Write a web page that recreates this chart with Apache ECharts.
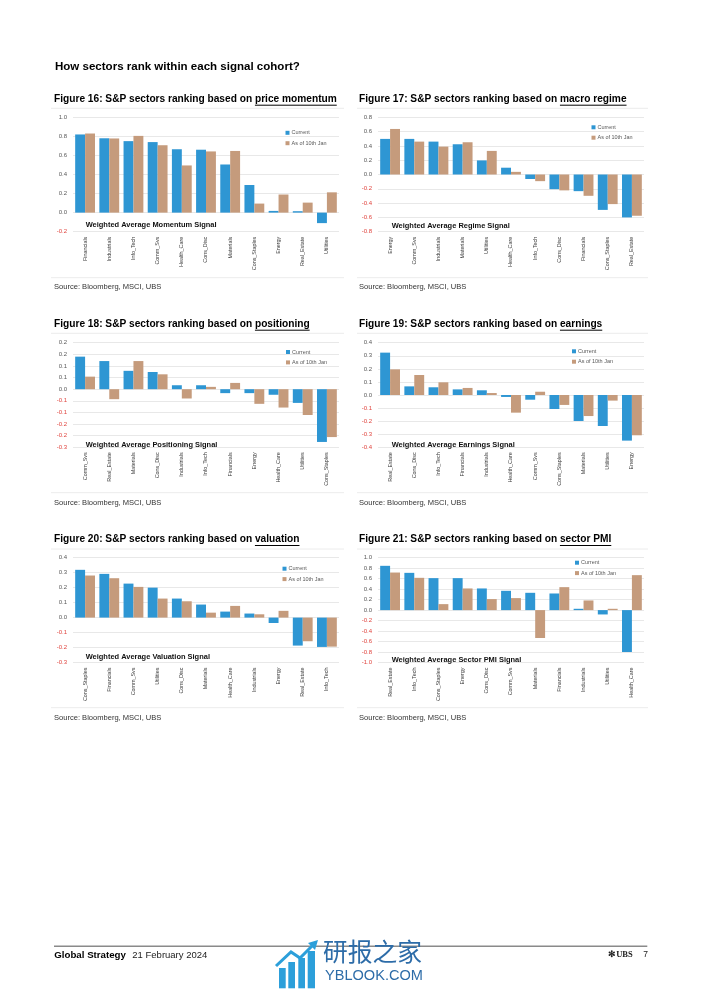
<!DOCTYPE html>
<html><head><meta charset="utf-8">
<script src="https://cdn.jsdelivr.net/npm/echarts/dist/echarts.min.js"></script>
<style>html,body{margin:0;padding:0;background:#fff}#c{width:702px;height:992px}</style>
</head><body><div id="c"></div><script>
// ---------- DATA ----------
const seriesNames = ['Current', 'As of 10th Jan'];

const momentumSectors = ['Financials','Industrials','Info_Tech','Comm_Svs','Health_Care','Cons_Disc','Materials','Cons_Staples','Energy','Real_Estate','Utilities'];
const momentumCurrent = [0.82,0.78,0.75,0.74,0.665,0.66,0.505,0.29,0.018,0.015,-0.11];
const momentumJan     = [0.83,0.778,0.805,0.707,0.495,0.642,0.647,0.095,0.19,0.105,0.213];

const regimeSectors = ['Energy','Comm_Svs','Industrials','Materials','Utilities','Health_Care','Info_Tech','Cons_Disc','Financials','Cons_Staples','Real_Estate'];
const regimeCurrent = [0.498,0.498,0.46,0.423,0.197,0.095,-0.063,-0.205,-0.233,-0.495,-0.6];
const regimeJan     = [0.637,0.46,0.39,0.451,0.33,0.037,-0.093,-0.222,-0.298,-0.414,-0.577];

const positioningSectors = ['Comm_Svs','Real_Estate','Materials','Cons_Disc','Industrials','Info_Tech','Financials','Energy','Health_Care','Utilities','Cons_Staples'];
const positioningCurrent = [0.14,0.121,0.079,0.074,0.017,0.017,-0.017,-0.017,-0.024,-0.059,-0.227];
const positioningJan     = [0.054,-0.043,0.121,0.064,-0.04,0.01,0.027,-0.063,-0.079,-0.111,-0.206];

const earningsSectors = ['Real_Estate','Cons_Disc','Info_Tech','Financials','Industrials','Health_Care','Comm_Svs','Cons_Staples','Materials','Utilities','Energy'];
const earningsCurrent = [0.324,0.066,0.059,0.043,0.036,-0.015,-0.036,-0.107,-0.199,-0.237,-0.349];
const earningsJan     = [0.196,0.153,0.097,0.054,0.015,-0.135,0.025,-0.076,-0.161,-0.043,-0.308];

const valuationSectors = ['Cons_Staples','Financials','Comm_Svs','Utilities','Cons_Disc','Materials','Health_Care','Industrials','Energy','Real_Estate','Info_Tech'];
const valuationCurrent = [0.319,0.292,0.227,0.2,0.127,0.087,0.04,0.027,-0.036,-0.187,-0.196];
const valuationJan     = [0.281,0.263,0.205,0.127,0.109,0.033,0.078,0.022,0.045,-0.158,-0.194];

const pmiSectors = ['Real_Estate','Info_Tech','Cons_Staples','Energy','Cons_Disc','Comm_Svs','Materials','Financials','Industrials','Utilities','Health_Care'];
const pmiCurrent = [0.845,0.711,0.61,0.61,0.413,0.368,0.33,0.317,0.025,-0.083,-0.8];
const pmiJan     = [0.717,0.616,0.114,0.413,0.21,0.229,-0.533,0.438,0.184,0.025,0.667];

// axis tick settings [min, max, interval]
const momentumTicks    = [-0.2, 1.0, 0.2];
const regimeTicks      = [-0.8, 0.8, 0.2];
const positioningTicks = [-0.25, 0.2, 0.05];
const earningsTicks    = [-0.4, 0.4, 0.1];
const valuationTicks   = [-0.3, 0.4, 0.1];
const pmiTicks         = [-1.0, 1.0, 0.2];

// texts
const pageHeading = 'How sectors rank within each signal cohort?';
const figNumbers = [16, 17, 18, 19, 20, 21];
const figKeywords = ['price momentum', 'macro regime', 'positioning', 'earnings', 'valuation', 'sector PMI'];
const signalLabels = ['Weighted Average Momentum Signal','Weighted Average Regime Signal','Weighted Average Positioning Signal','Weighted Average Earnings Signal','Weighted Average Valuation Signal','Weighted Average Sector PMI Signal'];
const sourceText = 'Source: Bloomberg, MSCI, UBS';

// ---------- LAYOUT ----------
const FONT = '"Liberation Sans", Arial, sans-serif';
const BLUE = '#2E96D3', BROWN = '#C59B7C';
const mctx = document.createElement('canvas').getContext('2d');
function measure(t, size, weight, fam) { mctx.font = (weight||'normal') + ' ' + size + 'px ' + (fam||FONT); return mctx.measureText(t).width; }
function fit(t, target, weight, fam) { return 10 * target / measure(t, 10, weight, fam); }

const panelData = [
  [momentumSectors, momentumCurrent, momentumJan, momentumTicks],
  [regimeSectors, regimeCurrent, regimeJan, regimeTicks],
  [positioningSectors, positioningCurrent, positioningJan, positioningTicks],
  [earningsSectors, earningsCurrent, earningsJan, earningsTicks],
  [valuationSectors, valuationCurrent, valuationJan, valuationTicks],
  [pmiSectors, pmiCurrent, pmiJan, pmiTicks]
];
const colX = [54, 359], gridLeft = [73, 378], GRID_W = 266;
const rowTitleY = [99, 324, 539.3], rowGridTop = [117.3, 342.7, 557.7], rowGridH = [114.4, 104.6, 104.8];
const rowSrcY = [287, 502.7, 717.7], rowTopLine = [108.3, 333.3, 549], rowBotLine = [277.7, 492.7, 707.7];
const legendPos = [[285.5,129.3],[591.5,123.8],[286,348.5],[572,347.8],[282.5,565.2],[575,559.2]];
const signalPos = [[85.7,225],[391.7,225.7],[85.7,444.7],[391.7,444.7],[85.7,657.3],[391.7,659.7]];

function fmt(v) { v = Number(v); const a = Math.round(Math.abs(v) * 10 + 1e-9) / 10; return (v < 0 && a > 0 ? '-' : '') + a.toFixed(1); }

const titleSize = fit('Figure 16: S&P sectors ranking based on price momentum', 283, 'bold');
const signalSize = fit(signalLabels[0], 131, 'bold');
const srcSize = fit(sourceText, 107.7, 'normal');
const legendSize = fit('As of 10th Jan', 35, 'normal');

const grids = [], xAxes = [], yAxes = [], series = [], legends = [], graphics = [];

panelData.forEach((p, i) => {
  const col = i % 2, row = Math.floor(i / 2);
  grids.push({ left: gridLeft[col], top: rowGridTop[row], width: GRID_W, height: rowGridH[row] });
  xAxes.push({ type: 'category', gridIndex: i, data: p[0], position: 'bottom',
    axisLine: { show: false, onZero: false }, axisTick: { show: false }, splitLine: { show: false },
    axisLabel: { rotate: 90, interval: 0, fontSize: 5.4, color: '#404040', margin: 5, fontFamily: FONT } });
  yAxes.push({ type: 'value', gridIndex: i, min: p[3][0], max: p[3][1], interval: p[3][2],
    axisLine: { show: false }, axisTick: { show: false },
    splitLine: { lineStyle: { color: '#e2e2e2', width: 0.8 } },
    axisLabel: { fontSize: 6, margin: 6, fontFamily: FONT, formatter: fmt,
      color: (v) => (Number(v) < -1e-9 ? '#E0443E' : '#595959') } });
  series.push({ type: 'bar', name: seriesNames[0], xAxisIndex: i, yAxisIndex: i, data: p[1],
    itemStyle: { color: BLUE }, barGap: '0%', barCategoryGap: '18%' });
  series.push({ type: 'bar', name: seriesNames[1], xAxisIndex: i, yAxisIndex: i, data: p[2],
    itemStyle: { color: BROWN }, barGap: '0%', barCategoryGap: '18%' });
  legends.push({ data: seriesNames, orient: 'vertical', left: legendPos[i][0], top: legendPos[i][1],
    padding: 0, itemWidth: 4, itemHeight: 4, itemGap: 3.4, icon: 'rect', selectedMode: false,
    textStyle: { fontSize: legendSize, color: '#595959', fontFamily: FONT, lineHeight: 7, padding: [0,0,0,-3] } });

  // title with underlined keyword
  const prefix = 'Figure ' + figNumbers[i] + ': S&P sectors ranking based on ';
  const x0 = colX[col], ty = rowTitleY[row];
  const pw = measure(prefix, titleSize, 'bold'), kw = measure(figKeywords[i], titleSize, 'bold');
  graphics.push({ type: 'text', x: x0, y: ty, style: { text: prefix + figKeywords[i], fontSize: titleSize, fontWeight: 'bold', fontFamily: FONT, fill: '#000', textVerticalAlign: 'middle' } });
  graphics.push({ type: 'line', shape: { x1: x0 + pw, y1: ty + 6.2, x2: x0 + pw + kw, y2: ty + 6.2 }, style: { stroke: '#000', lineWidth: 1 } });
  // separators
  const lx1 = col ? 357 : 51, lx2 = col ? 648 : 344;
  graphics.push({ type: 'line', shape: { x1: lx1, y1: rowTopLine[row], x2: lx2, y2: rowTopLine[row] }, style: { stroke: '#ececec', lineWidth: 1 } });
  graphics.push({ type: 'line', shape: { x1: lx1, y1: rowBotLine[row], x2: lx2, y2: rowBotLine[row] }, style: { stroke: '#ececec', lineWidth: 1 } });
  // source
  graphics.push({ type: 'text', x: x0, y: rowSrcY[row], style: { text: sourceText, fontSize: srcSize, fontFamily: FONT, fill: '#333', textVerticalAlign: 'middle' } });
  // signal label
  graphics.push({ type: 'text', x: signalPos[i][0], y: signalPos[i][1], z: 10, style: { text: signalLabels[i], fontSize: signalSize, fontWeight: 'bold', fontFamily: FONT, fill: '#111', textVerticalAlign: 'middle' } });
});

// page heading
graphics.push({ type: 'text', x: 55, y: 67.3, style: { text: pageHeading, fontSize: fit(pageHeading, 245, 'bold'), fontWeight: 'bold', fontFamily: FONT, fill: '#000', textVerticalAlign: 'middle' } });

// footer
graphics.push({ type: 'line', shape: { x1: 54, y1: 946.3, x2: 647.3, y2: 946.3 }, style: { stroke: '#8a8a8a', lineWidth: 1.4 } });
graphics.push({ type: 'text', x: 54.3, y: 955.3, style: { text: 'Global Strategy', fontSize: fit('Global Strategy', 71.7, 'bold'), fontWeight: 'bold', fontFamily: FONT, fill: '#000', textVerticalAlign: 'middle' } });
graphics.push({ type: 'text', x: 132.3, y: 955.3, style: { text: '21 February 2024', fontSize: fit('21 February 2024', 75, 'normal'), fontFamily: FONT, fill: '#222', textVerticalAlign: 'middle' } });
graphics.push({ type: 'text', x: 632.7, y: 955, style: { text: '✻UBS', fontSize: 8.5, fontWeight: 'bold', fontFamily: '"Liberation Serif", "DejaVu Serif", serif', fill: '#222', textAlign: 'right', textVerticalAlign: 'middle' } });
graphics.push({ type: 'text', x: 643.3, y: 955, style: { text: '7', fontSize: 8.5, fontFamily: FONT, fill: '#222', textVerticalAlign: 'middle' } });

// watermark
const wmBlue = '#2C9FDA', wmText = '#2D6CA8';
[[279, 968, 6.7], [288.3, 962, 6.7], [298.3, 958, 6.7], [307.7, 951, 7.3]].forEach(b => {
  graphics.push({ type: 'rect', shape: { x: b[0], y: b[1], width: b[2], height: 988.3 - b[1] }, style: { fill: wmBlue } });
});
graphics.push({ type: 'polyline', shape: { points: [[276, 966], [291, 952], [300, 958], [313, 945]] }, style: { stroke: wmBlue, lineWidth: 3, fill: null } });
graphics.push({ type: 'polygon', shape: { points: [[308, 943], [318, 940], [315, 950]] }, style: { fill: wmBlue } });
graphics.push({ type: 'text', x: 323, y: 951.5, style: { text: '研报之家', fontSize: fit('研报之家', 99, 'normal', '"Noto Sans CJK SC"'), fontFamily: '"Noto Sans CJK SC"', fill: wmText, textVerticalAlign: 'middle' } });
graphics.push({ type: 'text', x: 325, y: 976, style: { text: 'YBLOOK.COM', fontSize: fit('YBLOOK.COM', 98, 'normal'), fontFamily: FONT, fill: wmText, textVerticalAlign: 'middle' } });

const chart = echarts.init(document.getElementById('c'), null, { renderer: 'canvas' });
chart.setOption({
  backgroundColor: '#fff',
  animation: false,
  grid: grids, xAxis: xAxes, yAxis: yAxes, series: series, legend: legends,
  graphic: { elements: graphics }
});
</script></body></html>
